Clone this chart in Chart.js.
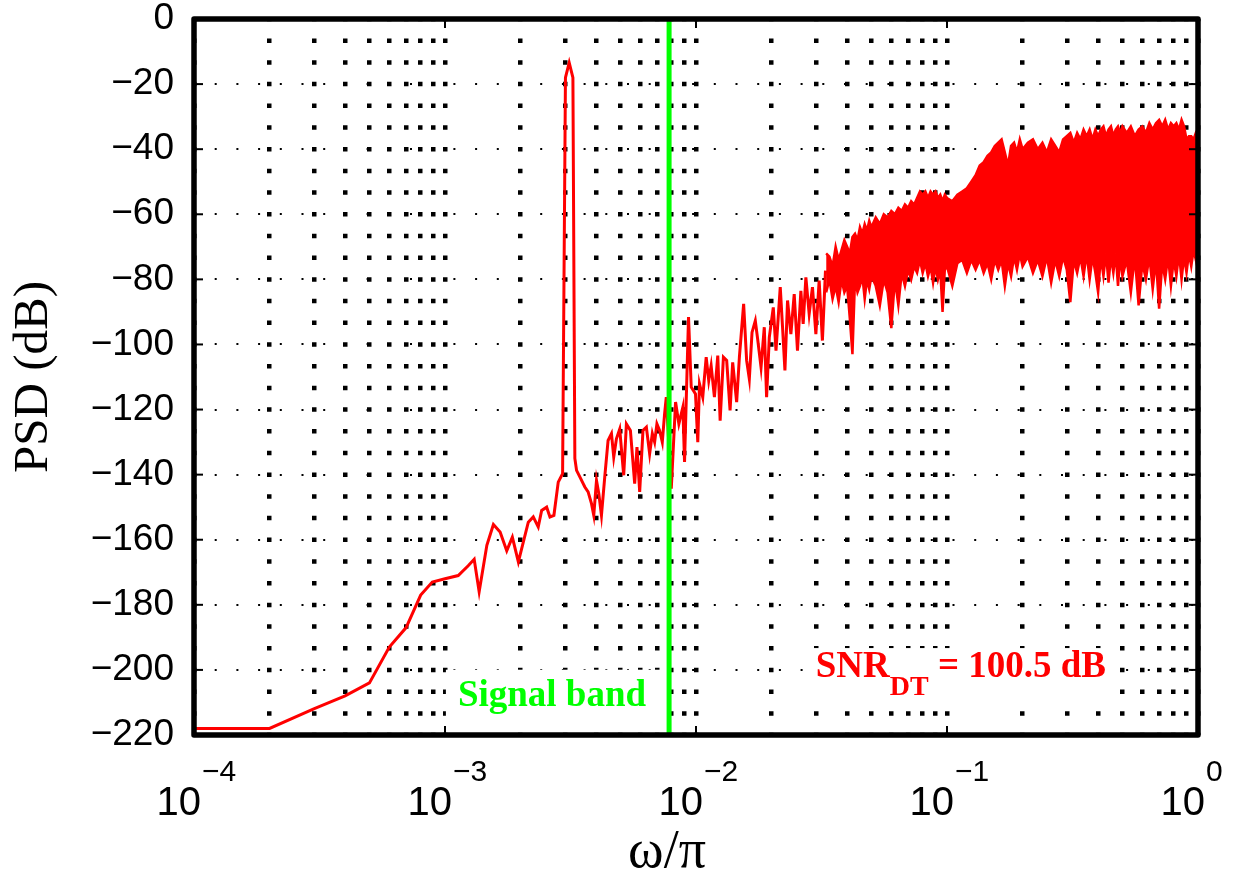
<!DOCTYPE html>
<html><head><meta charset="utf-8">
<script src="https://cdn.jsdelivr.net/npm/chart.js@4.4.1/dist/chart.umd.min.js"></script>
<style>html,body{margin:0;padding:0;background:#fff;}#wrap{width:1243px;height:876px;}</style>
</head><body><div id="wrap"><canvas id="c" width="1243" height="876"></canvas></div>
<script>
// ---- data ----
const psdFreq = [
 1.0e-4, 2.0e-4, 3.0e-4, 4.0e-4, 5.0e-4, 6.0e-4, 7.0e-4, 8.0e-4, 8.9e-4, 1.0e-3,
 1.129e-3, 1.237e-3, 1.307e-3, 1.368e-3, 1.468e-3, 1.559e-3, 1.658e-3, 1.762e-3, 1.855e-3, 1.960e-3,
 2.147e-3, 2.247e-3, 2.352e-3, 2.427e-3, 2.541e-3, 2.619e-3, 2.716e-3, 2.826e-3, 2.941e-3, 3.019e-3,
 3.125e-3, 3.233e-3, 3.291e-3, 3.343e-3, 3.445e-3, 3.607e-3, 3.717e-3, 3.834e-3, 3.915e-3, 4.014e-3,
 4.099e-3, 4.201e-3, 4.330e-3, 4.464e-3, 4.605e-3, 4.702e-3, 4.819e-3, 4.967e-3, 5.152e-3, 5.281e-3,
 5.478e-3, 5.698e-3, 5.819e-3, 5.965e-3, 6.148e-3, 6.342e-3, 6.536e-3, 6.699e-3, 6.842e-3, 6.987e-3,
 7.161e-3, 7.340e-3, 7.497e-3, 7.614e-3, 7.971e-3, 8.291e-3, 8.546e-3, 8.864e-3, 9.002e-3, 9.337e-3,
 9.570e-3, 9.954e-3, 1.0165e-2, 1.0325e-2, 1.064e-2, 1.098e-2, 1.124e-2, 1.149e-2, 1.184e-2, 1.221e-2,
 1.248e-2, 1.286e-2, 1.325e-2, 1.367e-2, 1.400e-2, 1.452e-2, 1.489e-2, 1.548e-2, 1.591e-2, 1.631e-2,
 1.672e-2, 1.723e-2, 1.760e-2, 1.816e-2, 1.871e-2, 1.911e-2, 1.959e-2, 2.032e-2, 2.083e-2, 2.166e-2,
 2.212e-2, 2.261e-2, 2.316e-2, 2.388e-2, 2.462e-2, 2.537e-2, 2.617e-2, 2.673e-2, 2.740e-2, 2.824e-2,
 2.911e-2, 3.003e-2, 3.095e-2, 3.189e-2, 3.28e-2
];
const psdDb = [
 -218, -218, -212, -208, -204, -193, -187, -177, -173, -172,
 -171, -168, -166, -176, -161.7, -155.3, -157.6, -163.4, -159.2, -166.8,
 -154.6, -153.0, -156.1, -151, -150, -153, -152.5, -142.3, -139.7, -18,
 -13.4, -18, -135, -138.7, -140.7, -143.8, -145.3, -148.9, -152.5, -141.8,
 -145.8, -152.5, -140.7, -129.5, -127.4, -134.6, -129, -126, -140.2, -124.4,
 -126.4, -142.8, -131.5, -145.3, -126.4, -125.4, -133.6, -127.4, -130, -124.4,
 -126.4, -130, -121.3, -116.2, -144.3, -117.7, -124.4, -119.3, -136.1, -91.6,
 -113.1, -115.2, -130, -112.1, -116.2, -103.9, -111.1, -106.5, -116.2, -103.4,
 -123.4, -103.9, -104.9, -120.3, -105.5, -117.7, -103.9, -87.5, -104.9, -110.6,
 -96.3, -92.7, -98.3, -107, -94.7, -116.2, -97.8, -88.6, -101.9, -82.4,
 -94.7, -108, -86.5, -96.8, -84.5, -101.9, -83.5, -93.7, -79.4, -90.6,
 -82.4, -96.8, -80.4, -98.8, -77.3
];
// dense high-frequency part: upper and lower edge of the noise band
const bandFreq = [
 0.033, 0.034, 0.035, 0.036, 0.037, 0.038, 0.039, 0.040, 0.041, 0.042, 0.043, 0.044, 0.045, 0.046, 0.047, 0.048, 0.049, 0.050,
 0.052, 0.054, 0.056, 0.058, 0.060, 0.062, 0.064, 0.066, 0.068, 0.070, 0.072, 0.074, 0.076, 0.078, 0.080, 0.082, 0.084, 0.086, 0.088, 0.090, 0.092, 0.094, 0.096, 0.098, 0.100,
 0.105, 0.110, 0.115, 0.120, 0.125, 0.130, 0.135, 0.140, 0.145, 0.150, 0.155, 0.160, 0.165, 0.170, 0.175, 0.180, 0.185, 0.190, 0.195, 0.200,
 0.21, 0.22, 0.23, 0.24, 0.25, 0.26, 0.27, 0.28, 0.29, 0.30, 0.31, 0.32, 0.33, 0.34, 0.35, 0.36, 0.37, 0.38, 0.39, 0.40, 0.41, 0.42, 0.43, 0.44, 0.45, 0.46, 0.47, 0.48, 0.49, 0.50,
 0.52, 0.54, 0.56, 0.58, 0.60, 0.62, 0.64, 0.66, 0.68, 0.70, 0.72, 0.74, 0.76, 0.78, 0.80, 0.82, 0.84, 0.86, 0.88, 0.90, 0.92, 0.94, 0.96, 0.98, 1.00
];
const bandHi = [
 -72, -73, -76, -70, -74, -71, -68, -70, -72, -67, -66, -68, -64, -66, -63, -65, -62, -64,
 -61, -63, -60, -61, -59, -60, -58, -59, -57, -58, -56, -57, -55, -53, -54, -53, -55, -53, -54, -53, -55, -54, -56, -54, -55,
 -56, -54, -53, -52, -50, -48, -45, -44, -42, -41, -39, -38, -37, -41, -45, -39, -38, -41, -37, -40,
 -38, -37, -40, -38, -41, -37, -39, -41, -37, -36, -35, -38, -35, -37, -34, -36, -34, -37, -34, -36, -34, -33, -36, -34, -33, -36, -34, -33, -35, -33,
 -35, -33, -36, -34, -33, -35, -32, -34, -32, -31, -33, -31, -34, -32, -33, -32, -34, -31, -33, -37, -36, -36, -37, -35, -36
];
const bandLo = [
 -84, -80, -86, -82, -87, -80, -84, -82, -92, -103, -80, -84, -82, -79, -86, -80, -83, -79,
 -82, -88, -80, -84, -95, -80, -88, -78, -82, -77, -80, -76, -78, -74, -78, -75, -79, -76, -81, -76, -80, -77, -90, -77, -76,
 -82, -75, -74, -78, -74, -77, -74, -78, -75, -80, -74, -77, -74, -82, -75, -79, -73, -77, -72, -76,
 -73, -78, -74, -79, -73, -81, -74, -79, -73, -77, -87, -74, -78, -73, -79, -72, -80, -73, -78, -84, -73, -79, -72, -81, -73, -78, -72, -82, -73, -79,
 -74, -84, -73, -88, -75, -80, -73, -83, -74, -89, -75, -80, -73, -82, -74, -79, -72, -80, -73, -78, -72, -76, -71, -74, -70
];
const signalBandEdge = 0.0078125; // 1/128
const yTickValues = [-220, -200, -180, -160, -140, -120, -100, -80, -60, -40, -20, 0];
const xGridValues = [
 1e-4, 2e-4, 3e-4, 4e-4, 5e-4, 6e-4, 7e-4, 8e-4, 9e-4,
 1e-3, 2e-3, 3e-3, 4e-3, 5e-3, 6e-3, 7e-3, 8e-3, 9e-3,
 1e-2, 2e-2, 3e-2, 4e-2, 5e-2, 6e-2, 7e-2, 8e-2, 9e-2,
 1e-1, 2e-1, 3e-1, 4e-1, 5e-1, 6e-1, 7e-1, 8e-1, 9e-1, 1
];
const xTickExponents = [-4, -3, -2, -1, 0];
const xTitle = 'ω/π';
const yTitle = 'PSD (dB)';
const bandLabel = 'Signal band';
const snrMain = 'SNR', snrSub = 'DT', snrRest = ' = 100.5 dB';
const snrPos = {x: 0.03, y: -202.2};
const bandLabelY = -211;

// ---- plugins ----
const annot = {
  id: 'annot',
  afterDatasetsDraw(chart) {
    const {ctx, scales: {x, y}} = chart;
    ctx.save();
    ctx.textBaseline = 'alphabetic';
    ctx.textAlign = 'left';
    const gx = x.getPixelForValue(signalBandEdge);
    ctx.font = 'bold 37px "Liberation Serif"';
    const w = ctx.measureText(bandLabel).width;
    const base = y.getPixelForValue(bandLabelY);
    const right = gx - 23;
    ctx.fillStyle = '#fff';
    ctx.fillRect(right - w - 12, base - 36, w + 27, 47);
    ctx.fillStyle = '#00ff00';
    ctx.fillText(bandLabel, right - w, base);
    const sx = x.getPixelForValue(snrPos.x);
    const sb = y.getPixelForValue(snrPos.y);
    ctx.font = 'bold 37px "Liberation Serif"';
    const w1 = ctx.measureText(snrMain).width;
    const w3 = ctx.measureText(snrRest).width;
    ctx.font = 'bold 28px "Liberation Serif"';
    const w2 = ctx.measureText(snrSub).width;
    ctx.fillStyle = '#fff';
    ctx.fillRect(sx - 11, sb - 29, w1 + w2 + w3 + 16, 60);
    ctx.fillStyle = '#ff0000';
    ctx.font = 'bold 37px "Liberation Serif"';
    ctx.fillText(snrMain, sx, sb);
    ctx.fillText(snrRest, sx + w1 + w2, sb);
    ctx.font = 'bold 28px "Liberation Serif"';
    ctx.fillText(snrSub, sx + w1, sb + 18);
    ctx.restore();
  }
};
const frame = {
  id: 'frame',
  afterDraw(chart) {
    const {ctx, chartArea: a, scales: {x, y}} = chart;
    ctx.save();
    ctx.strokeStyle = '#000';
    ctx.lineWidth = 2;
    const seg = (x1, y1, x2, y2) => { ctx.beginPath(); ctx.moveTo(x1, y1); ctx.lineTo(x2, y2); ctx.stroke(); };
    yTickValues.forEach(v => { const py = y.getPixelForValue(v); seg(a.left, py, a.left + 9, py); seg(a.right - 9, py, a.right, py); });
    xTickExponents.forEach(e => { const px = x.getPixelForValue(Math.pow(10, e)); seg(px, a.bottom, px, a.bottom - 9); seg(px, a.top, px, a.top + 9); });
    ctx.lineWidth = 5.5;
    ctx.lineJoin = 'round';
    ctx.strokeRect(a.left, a.top, a.right - a.left, a.bottom - a.top);
    ctx.fillStyle = '#000';
    ctx.textBaseline = 'alphabetic';
    xTickExponents.forEach(e => {
      const px = x.getPixelForValue(Math.pow(10, e));
      ctx.font = '40px "Liberation Sans"';
      ctx.textAlign = 'right';
      ctx.fillText('10', px + 7, 815);
      ctx.font = '30px "Liberation Sans"';
      ctx.textAlign = 'left';
      ctx.fillText(e < 0 ? '\u2212' + (-e) : String(e), px + 8, 781);
    });
    ctx.font = '54px "Liberation Serif"';
    ctx.textAlign = 'center';
    ctx.fillText(xTitle, (a.left + a.right) / 2 - 29, 867);
    ctx.restore();
  }
};

new Chart(document.getElementById('c'), {
  type: 'line',
  data: {
    datasets: [
      {label: 'Signal band edge', data: [{x: signalBandEdge, y: -220}, {x: signalBandEdge, y: 0}],
       borderColor: '#00ff00', borderWidth: 5, pointRadius: 0, order: -1},
      {label: 'PSD', data: psdFreq.map((f, i) => ({x: f, y: psdDb[i]})),
       borderColor: '#ff0000', borderWidth: 3, pointRadius: 0, tension: 0},
      {label: 'PSD band max', data: bandFreq.map((f, i) => ({x: f, y: bandHi[i]})),
       borderColor: '#ff0000', borderWidth: 2.5, pointRadius: 0, tension: 0},
      {label: 'PSD band min', data: bandFreq.map((f, i) => ({x: f, y: bandLo[i]})),
       borderColor: '#ff0000', borderWidth: 2.5, pointRadius: 0, tension: 0, fill: '-1', backgroundColor: '#ff0000'}
    ]
  },
  options: {
    responsive: false, animation: false, devicePixelRatio: 1,
    layout: {padding: {top: 19, right: 45, left: 0, bottom: 0}},
    plugins: {legend: {display: false}, tooltip: {enabled: false}},
    scales: {
      x: {
        type: 'logarithmic', min: 1e-4, max: 1,
        afterBuildTicks: s => { s.ticks = xGridValues.map(v => ({value: v})); },
        afterFit: s => { s.height = 141; s.paddingLeft = 0; s.paddingRight = 0; },
        ticks: {display: false},
        grid: {color: '#000', lineWidth: 4.5, drawTicks: false},
        border: {display: false, dash: [4.5, 17.2], dashOffset: 2.25}
      },
      y: {
        type: 'linear', min: -220, max: 0,
        afterBuildTicks: s => { s.ticks = yTickValues.map(v => ({value: v})); },
        afterFit: s => { s.width = 194; s.paddingTop = 0; s.paddingBottom = 0; },
        ticks: {color: '#000', font: {family: 'Liberation Sans', size: 37}, padding: 20,
                callback: v => v < 0 ? '\u2212' + Math.abs(v) : String(v)},
        grid: {color: '#000', lineWidth: 2, drawTicks: false},
        border: {display: false, dash: [2, 19.7], dashOffset: 1},
        title: {display: true, text: yTitle, color: '#000', font: {family: 'Liberation Serif', size: 49}, padding: {top: 5, bottom: 0}}
      }
    }
  },
  plugins: [annot, frame]
});
</script>
</body></html>
